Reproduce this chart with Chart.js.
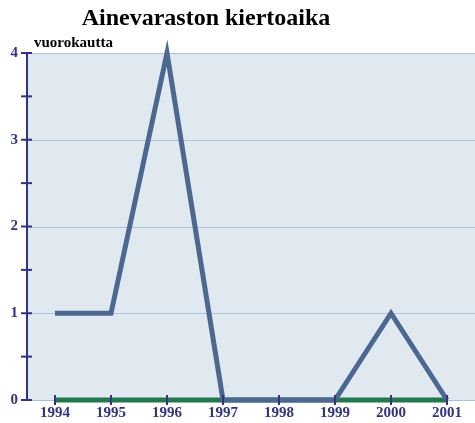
<!DOCTYPE html>
<html><head><meta charset="utf-8">
<script src="https://cdn.jsdelivr.net/npm/chart.js@4/dist/chart.umd.min.js"></script>
<style>html,body{margin:0;padding:0;background:#fff}#wrap{width:475px;height:423px}</style>
</head><body><div id="wrap"><canvas id="c" width="475" height="423"></canvas></div>
<script>
const categories = ['1994','1995','1996','1997','1998','1999','2000','2001'];
const turnoverDays = [1, 1, 4, 0, 0, 0, 1, 0];
const baselineSeries = [0, 0, 0, 0, 0, 0, 0, 0];
const yTickLabels = [0, 1, 2, 3, 4];
const chartTitle = 'Ainevaraston kiertoaika';
const unitLabel = 'vuorokautta';

const NAVY = '#33337f';
const serif = '"Liberation Serif", "DejaVu Serif", serif';

const decor = {
  id: 'decor',
  beforeDatasetsDraw(chart) {
    const {ctx, chartArea: a} = chart;
    ctx.save();
    ctx.fillStyle = '#e0e8f0';
    ctx.fillRect(a.left, a.top, a.right - a.left, a.bottom - a.top);
    const y = chart.scales.y;
    ctx.strokeStyle = '#a6c4da';
    ctx.lineWidth = 1;
    yTickLabels.forEach(v => {
      const py = Math.round(y.getPixelForValue(v)) + 0.5;
      ctx.beginPath(); ctx.moveTo(a.left, py); ctx.lineTo(a.right, py); ctx.stroke();
    });
    ctx.restore();
  },
  afterDraw(chart) {
    const {ctx, chartArea: a} = chart;
    const x = chart.scales.x, y = chart.scales.y;
    ctx.save();
    ctx.strokeStyle = NAVY;
    ctx.lineWidth = 2;
    ctx.beginPath(); ctx.moveTo(a.left, a.top); ctx.lineTo(a.left, a.bottom); ctx.stroke();
    for (let v = 0; v <= 4; v += 0.5) {
      const py = y.getPixelForValue(v);
      ctx.beginPath(); ctx.moveTo(a.left - 6, py); ctx.lineTo(a.left + 5, py); ctx.stroke();
    }
    categories.forEach((c, i) => {
      const px = x.getPixelForValue(i);
      ctx.beginPath(); ctx.moveTo(px, a.bottom - 5); ctx.lineTo(px, a.bottom + 5); ctx.stroke();
    });
    ctx.fillStyle = '#000';
    ctx.textBaseline = 'middle';
    ctx.textAlign = 'center';
    ctx.font = 'bold 24px ' + serif;
    ctx.fillText(chartTitle, 206, 19);
    ctx.textAlign = 'left';
    ctx.font = 'bold 15px ' + serif;
    ctx.fillText(unitLabel, a.left + 7, a.top - 10);
    ctx.restore();
  }
};

new Chart(document.getElementById('c'), {
  type: 'line',
  data: {
    labels: categories,
    datasets: [
      { label: 'Kiertoaika', data: turnoverDays, borderColor: '#4c6890', borderWidth: 5,
        pointRadius: 0, tension: 0, clip: false, borderJoinStyle: 'miter', borderCapStyle: 'butt' },
      { label: 'Perustaso', data: baselineSeries, borderColor: '#23774f', borderWidth: 5,
        pointRadius: 0, tension: 0, clip: false }
    ]
  },
  plugins: [decor],
  options: {
    responsive: false,
    animation: false,
    devicePixelRatio: 1,
    layout: { padding: { top: 53, right: 0, left: 0, bottom: 0 } },
    plugins: { legend: { display: false }, title: { display: false }, tooltip: { enabled: false } },
    scales: {
      x: {
        type: 'category', offset: true,
        grid: { display: false, drawTicks: false },
        border: { display: true, color: NAVY, width: 2 },
        ticks: { color: NAVY, font: { family: serif, weight: 'bold', size: 15 }, padding: 4, maxRotation: 0, autoSkip: false },
        afterFit(s) { s.height = 23; }
      },
      y: {
        min: 0, max: 4,
        grid: { display: false, drawTicks: false },
        border: { display: false },
        ticks: { stepSize: 1, color: NAVY, font: { family: serif, weight: 'bold', size: 15 }, padding: 9 },
        afterFit(s) { s.width = 27; }
      }
    }
  }
});
</script></body></html>
